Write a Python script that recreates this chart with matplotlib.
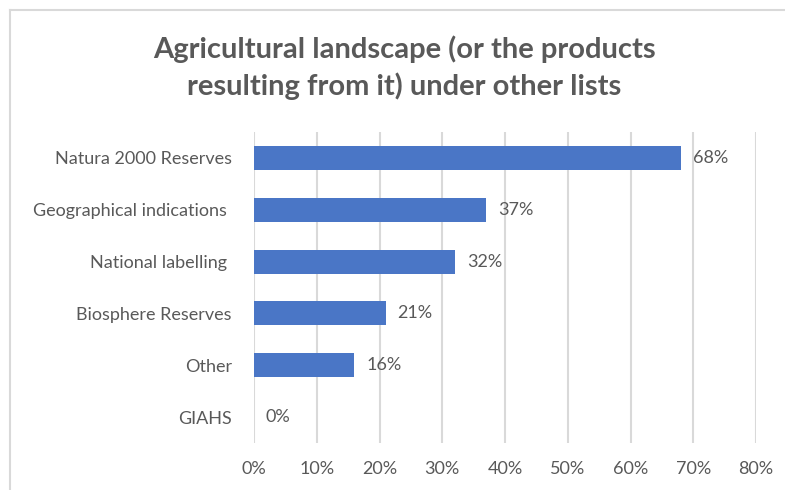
import matplotlib.pyplot as plt
import numpy as np

# data
categories = ["Natura 2000 Reserves", "Geographical indications ", "National labelling ",
              "Biosphere Reserves", "Other", "GIAHS"]
values = [68, 37, 32, 21, 16, 0]
ticks = [0, 10, 20, 30, 40, 50, 60, 70, 80]
tick_labels = [str(t) + "%" for t in ticks]

plt.rcParams['font.family'] = ['Lato', 'DejaVu Sans']
grey = "#595959"

fig = plt.figure(figsize=(7.85, 4.90), dpi=100)
ax = fig.add_axes([254 / 785, 1 - 443 / 490, (756 - 254) / 785, (443 - 132) / 490])

y = np.arange(len(categories))
ax.barh(y, values, height=0.46, color="#4A76C6", linewidth=0, zorder=3)
for yi, v in zip(y, values):
    ax.text(v + 1.9, yi, str(v) + "%", va="center", ha="left", fontsize=13, color=grey)

ax.set_xlim(0, 80)
ax.set_ylim(len(categories) - 0.5, -0.5)
ax.set_xticks(ticks)
ax.set_xticklabels(tick_labels)
ax.set_yticks(y)
ax.set_yticklabels(categories)
ax.tick_params(axis="both", length=0, colors=grey, labelsize=13)
ax.tick_params(axis="x", pad=13)
ax.tick_params(axis="y", pad=16)
ax.grid(axis="x", color="#D9D9D9", linewidth=1.5, zorder=0)
for s in ax.spines.values():
    s.set_visible(False)

fig.text(0.515, 1 - 49 / 490, "Agricultural landscape (or the products", ha="center", va="center",
         fontsize=21, fontweight="bold", color=grey)
fig.text(0.515, 1 - 86 / 490, "resulting from it) under other lists", ha="center", va="center",
         fontsize=21, fontweight="bold", color=grey)

# chart frame
fig.add_artist(plt.Line2D([10 / 785, 1], [1 - 10 / 490, 1 - 10 / 490], color="#D9D9D9", lw=1.5))
fig.add_artist(plt.Line2D([10 / 785, 10 / 785], [0, 1 - 10 / 490], color="#D9D9D9", lw=1.5))

fig.savefig("out.png", dpi=100)
